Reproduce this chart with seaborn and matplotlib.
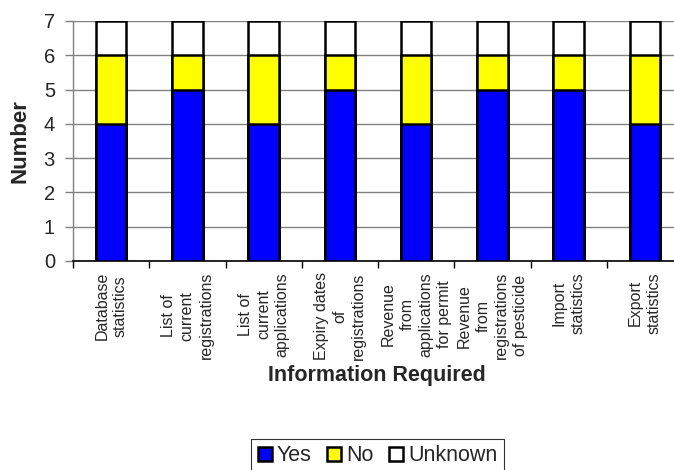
import matplotlib
matplotlib.use("Agg")
import matplotlib.pyplot as plt
from matplotlib.patches import Patch
import seaborn as sns
import pandas as pd
import numpy as np

categories = [
    "Database\nstatistics",
    "List of\ncurrent\nregistrations",
    "List of\ncurrent\napplications",
    "Expiry dates\nof\nregistrations",
    "Revenue\nfrom\napplications\nfor permit",
    "Revenue\nfrom\nregistrations\nof pesticide",
    "Import\nstatistics",
    "Export\nstatistics",
]
yes = [4, 5, 4, 5, 4, 5, 5, 4]
no = [2, 1, 2, 1, 2, 1, 1, 2]
unknown = [1, 1, 1, 1, 1, 1, 1, 1]

df = pd.DataFrame({"cat": categories, "Yes": yes, "No": no, "Unknown": unknown})
df["yes_no"] = df["Yes"] + df["No"]
df["total"] = df["yes_no"] + df["Unknown"]

sns.set_theme(style="white")
plt.rcParams["font.family"] = ["Liberation Sans", "DejaVu Sans"]

fig = plt.figure(figsize=(6.74, 4.70), dpi=100)
ax = fig.add_axes([73 / 674, 1 - 261 / 470, 610 / 674, 240 / 470])

colors = {"Yes": "#0000ff", "No": "#ffff00", "Unknown": "#ffffff"}
common = dict(x="cat", order=categories, width=0.4, edgecolor="black",
              linewidth=1.8, ax=ax, errorbar=None, zorder=3)
sns.barplot(data=df, y="total", color=colors["Unknown"], saturation=1, **common)
sns.barplot(data=df, y="yes_no", color=colors["No"], saturation=1, **common)
sns.barplot(data=df, y="Yes", color=colors["Yes"], saturation=1, **common)

ax.set_xlim(-0.5, len(categories) - 0.5)
ax.set_ylim(0, 7)
ax.set_yticks(range(0, 8))
ax.yaxis.grid(True, color="#808080", linewidth=1.0, zorder=0)
ax.set_axisbelow(True)

for side in ["top", "right"]:
    ax.spines[side].set_visible(False)
ax.spines["left"].set_color("#808080")
ax.spines["bottom"].set_color("black")
ax.spines["left"].set_linewidth(1.0)
ax.spines["bottom"].set_linewidth(1.2)

ax.tick_params(axis="y", which="major", direction="out", length=6, width=1,
               color="#808080", labelsize=14.5, pad=7, left=True)
ax.set_xticks(np.arange(len(categories)))
ax.set_xticklabels(categories, rotation=90, ha="center", va="top",
                   multialignment="center", fontsize=11.5, linespacing=1.3)
ax.tick_params(axis="x", which="major", length=0, pad=8)
ax.set_xticks(np.arange(len(categories) + 1) - 0.5, minor=True)
ax.tick_params(axis="x", which="minor", direction="out", length=5, width=1,
               color="black", bottom=True)

ax.set_ylabel("Number", fontsize=16, fontweight="bold")
ax.yaxis.set_label_coords((20 - 73) / 610, 0.5)
ax.set_xlabel("Information Required", fontsize=15.5, fontweight="bold")
ax.xaxis.set_label_coords((377 - 73) / 610, (261 - 376) / 240)
ax.xaxis.label.set_va("center")
ax.yaxis.label.set_va("center")

handles = [Patch(facecolor=colors[k], edgecolor="black", linewidth=1.8, label=k)
           for k in ["Yes", "No", "Unknown"]]
leg = fig.legend(handles=handles, loc="upper center", bbox_to_anchor=(377.5 / 674, 1 - 439 / 470),
                 ncol=3, frameon=True, fancybox=False, fontsize=15.5,
                 handlelength=0.65, handleheight=0.65, handletextpad=0.25,
                 columnspacing=0.7, borderpad=0.3, borderaxespad=0)
leg.get_frame().set_edgecolor("black")
leg.get_frame().set_linewidth(0.8)

fig.savefig("out.png", dpi=100)
